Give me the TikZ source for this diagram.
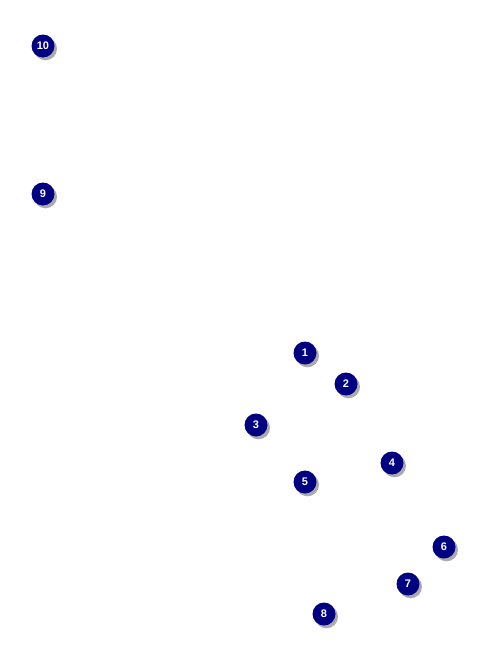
\documentclass[tikz,border=0pt]{standalone}
\usepackage{fontspec}
\setmainfont{Liberation Sans}
\definecolor{navy}{HTML}{000080}
\tikzset{
  num/.style={circle, fill=navy, text=white, font=\bfseries\fontsize{11}{11}\selectfont, minimum size=23pt, inner sep=0pt,
    preaction={fill=black!55, opacity=0.6, transform canvas={shift={(2.5pt,-2.8pt)}}}},
}
\begin{document}
\begin{tikzpicture}[x=1pt,y=-1pt]
\useasboundingbox (0,0) rectangle (486,648);
\node[num] (n10) at (43,46) {10};
\node[num] (n9) at (43,194) {9};
\node[num] (n1) at (305,353) {1};
\node[num] (n2) at (346,384) {2};
\node[num] (n3) at (256,425) {3};
\node[num] (n4) at (392,463) {4};
\node[num] (n5) at (305,482) {5};
\node[num] (n6) at (444,547) {6};
\node[num] (n7) at (408,584) {7};
\node[num] (n8) at (324,614) {8};
\end{tikzpicture}
\end{document}
